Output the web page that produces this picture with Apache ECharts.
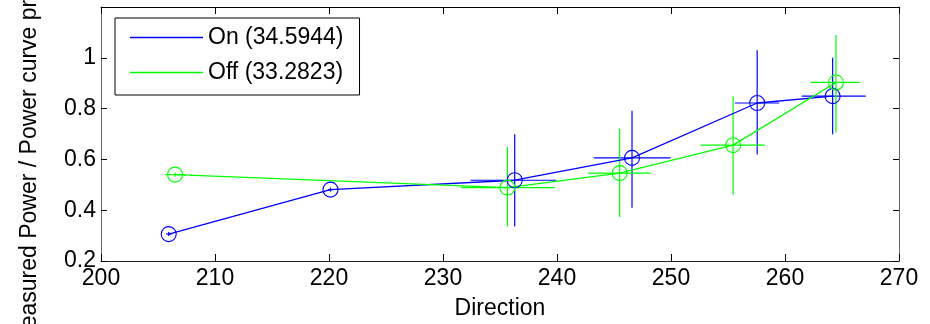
<!DOCTYPE html>
<html>
<head>
<meta charset="utf-8">
<script src="https://cdn.jsdelivr.net/npm/echarts@6/dist/echarts.min.js"></script>
<style>
html,body{margin:0;padding:0;background:#fff;}
#chart{width:930px;height:324px;}
</style>
</head>
<body>
<div id="chart"></div>
<script>
// ---- data ----
const xTicks = [200, 210, 220, 230, 240, 250, 260, 270];
const yTicks = [0.2, 0.4, 0.6, 0.8, 1];
const seriesNames = ['On (34.5944)', 'Off (33.2823)'];

const onX     = [205.94, 220.13, 236.29, 246.58, 257.56, 264.18];
const onY     = [0.306, 0.481, 0.518, 0.606, 0.822, 0.849];
const onXLow  = [205.70, 219.90, 232.42, 243.22, 255.60, 261.46];
const onXHigh = [206.20, 220.40, 239.94, 249.96, 259.49, 267.08];
const onYLow  = [0.298, 0.473, 0.336, 0.410, 0.619, 0.699];
const onYHigh = [0.314, 0.489, 0.699, 0.792, 1.030, 1.000];

const offX     = [206.50, 235.65, 245.50, 255.45, 264.47];
const offY     = [0.540, 0.489, 0.546, 0.656, 0.903];
const offXLow  = [205.60, 231.60, 242.72, 252.59, 262.25];
const offXHigh = [207.40, 239.80, 248.20, 258.24, 266.58];
const offYLow  = [0.532, 0.336, 0.373, 0.461, 0.706];
const offYHigh = [0.548, 0.649, 0.721, 0.849, 1.090];

// ---- build ----
const FONT = "'Liberation Sans', Arial, Helvetica, sans-serif";
const BLUE = '#0000ff', GREEN = '#00ff00';

function pts(xs, ys) { return xs.map((x, i) => [x, ys[i]]); }
function errData(xs, ys, xl, xh, yl, yh) {
  return xs.map((x, i) => [x, ys[i], xl[i], xh[i], yl[i], yh[i]]);
}
function errSeries(name, data, color) {
  return {
    type: 'custom', name: name, data: data, z: 1, silent: true,
    encode: { x: [0, 2, 3], y: [1, 4, 5] },
    renderItem: function (params, api) {
      const x = api.value(0), y = api.value(1);
      const pL = api.coord([api.value(2), y]);
      const pR = api.coord([api.value(3), y]);
      const pB = api.coord([x, api.value(4)]);
      const pT = api.coord([x, api.value(5)]);
      const st = { stroke: color, lineWidth: 1.2, fill: null };
      return {
        type: 'group',
        children: [
          { type: 'line', shape: { x1: pL[0], y1: pL[1], x2: pR[0], y2: pR[1] }, style: st },
          { type: 'line', shape: { x1: pB[0], y1: pB[1], x2: pT[0], y2: pT[1] }, style: st }
        ]
      };
    }
  };
}
function lineSeries(name, data, color) {
  return {
    type: 'line', name: name, data: data, z: 2,
    symbol: 'circle', symbolSize: 15, showAllSymbol: true,
    itemStyle: { color: 'rgba(0,0,0,0)', borderColor: color, borderWidth: 1.1 },
    lineStyle: { color: color, width: 1.3 },
    emphasis: { disabled: true }, animation: false
  };
}

const axisText = { color: '#000', fontFamily: FONT, fontSize: 23 };

const option = {
  animation: false,
  grid: { left: 101, right: 31, top: 7, bottom: 63, containLabel: false, outerBoundsMode: 'none' },
  legend: {
    data: [
      { name: seriesNames[0], itemStyle: { color: BLUE, borderWidth: 0 } },
      { name: seriesNames[1], itemStyle: { color: GREEN, borderWidth: 0 } }
    ],
    orient: 'vertical', left: 115, top: 18,
    icon: 'rect', itemWidth: 73, itemHeight: 1.5, itemGap: 12,
    padding: [8, 16, 11, 15],
    borderColor: '#000', borderWidth: 1, backgroundColor: '#fff',
    textStyle: { color: '#000', fontFamily: FONT, fontSize: 23 },
    selectedMode: false
  },
  xAxis: [
    {
      type: 'value', min: xTicks[0], max: xTicks[xTicks.length - 1], interval: 10,
      name: 'Direction', nameLocation: 'middle', nameGap: 36,
      nameTextStyle: axisText,
      axisLine: { show: true, lineStyle: { color: '#222', width: 1 } },
      axisTick: { show: true, inside: true, length: 7, lineStyle: { color: '#000' } },
      axisLabel: Object.assign({ margin: 6 }, axisText),
      splitLine: { show: false }
    },
    {
      type: 'value', position: 'top', min: xTicks[0], max: xTicks[xTicks.length - 1], interval: 10,
      axisLine: { show: true, lineStyle: { color: '#000', width: 1 } },
      axisTick: { show: true, inside: true, length: 7, lineStyle: { color: '#000' } },
      axisLabel: { show: false }, splitLine: { show: false }
    }
  ],
  yAxis: [
    {
      type: 'value', min: yTicks[0], max: 1.2, interval: 0.2,
      name: 'Measured Power / Power curve prediction', nameLocation: 'middle', nameGap: 60,
      nameTextStyle: axisText,
      axisLine: { show: true, lineStyle: { color: '#666', width: 1 } },
      axisTick: { show: true, inside: true, length: 6, lineStyle: { color: '#000' } },
      axisLabel: Object.assign({ margin: 5, showMaxLabel: false }, axisText),
      splitLine: { show: false }
    },
    {
      type: 'value', position: 'right', min: yTicks[0], max: 1.2, interval: 0.2,
      axisLine: { show: true, lineStyle: { color: '#666', width: 1 } },
      axisTick: { show: true, inside: true, length: 6, lineStyle: { color: '#000' } },
      axisLabel: { show: false }, splitLine: { show: false }
    }
  ],
  series: [
    errSeries('On err', errData(onX, onY, onXLow, onXHigh, onYLow, onYHigh), BLUE),
    lineSeries(seriesNames[0], pts(onX, onY), BLUE),
    errSeries('Off err', errData(offX, offY, offXLow, offXHigh, offYLow, offYHigh), GREEN),
    lineSeries(seriesNames[1], pts(offX, offY), GREEN)
  ]
};

const chart = echarts.init(document.getElementById('chart'), null, { renderer: 'canvas' });
chart.setOption(option);
</script>
</body>
</html>
